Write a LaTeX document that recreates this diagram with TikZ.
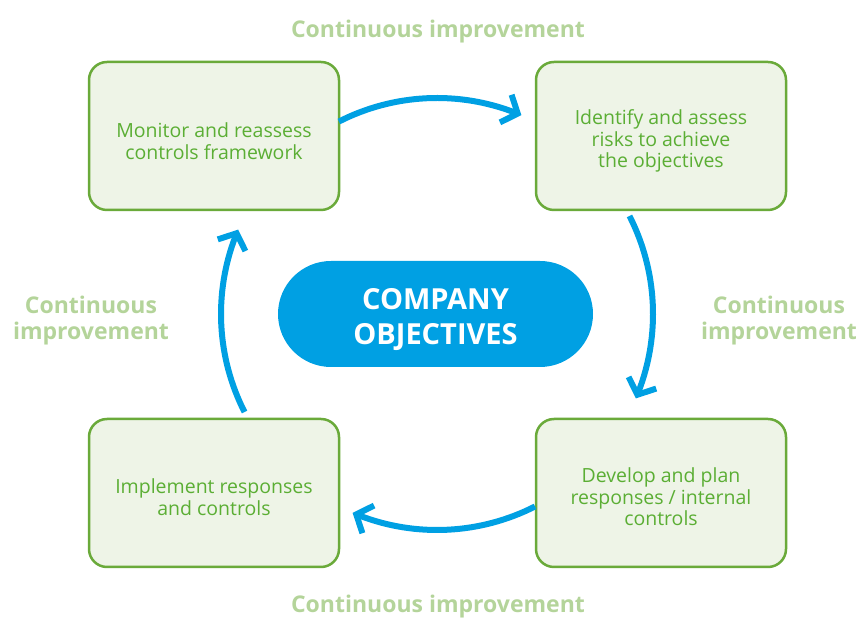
\documentclass[tikz,border=0pt]{standalone}
\usepackage{fontspec}
\setmainfont{Open Sans}
\usetikzlibrary{arrows.meta,bending}
\definecolor{boxline}{HTML}{6AAA3A}
\definecolor{boxfill}{HTML}{EEF4E7}
\definecolor{boxtext}{HTML}{5BAE34}
\definecolor{labtext}{HTML}{B4D49A}
\definecolor{pillblue}{HTML}{00A0E3}
\tikzset{
  stepbox/.style={draw=boxline, line width=2.5pt, fill=boxfill, rounded corners=18pt,
    minimum width=250pt, minimum height=148pt, inner sep=0pt},
  boxtxt/.style={align=center, text=boxtext,
    font=\fontsize{19.5}{21.5}\selectfont, inner sep=0pt},
  pill/.style={fill=pillblue, rounded corners=53pt, minimum width=315pt, minimum height=106pt,
    inner sep=0pt},
  pilltxt/.style={align=center, text=white, font=\fontsize{29}{35}\selectfont\bfseries, inner sep=0pt},
  cilabel/.style={text=labtext, font=\fontsize{23}{26}\selectfont\bfseries, align=center, inner sep=0pt},
  cyc/.style={draw=pillblue, line width=6pt, line join=miter,
    -{Straight Barb[length=13pt,width=30pt,flex]}}
}
\begin{document}
\begin{tikzpicture}[x=1pt,y=1pt]
\useasboundingbox (0,0) rectangle (859,620);
\node[stepbox] (tl) at (214,484) {};
\node[stepbox] (tr) at (661,484) {};
\node[stepbox] (bl) at (214,127) {};
\node[stepbox] (br) at (661,127) {};
\node[boxtxt] (tlt) at ([yshift=-5pt]tl.center) {Monitor and reassess\\controls framework};
\node[boxtxt] (trt) at ([yshift=-5pt]tr.center) {Identify and assess\\risks to achieve\\the objectives};
\node[boxtxt] (blt) at ([yshift=-4pt]bl.center) {Implement responses\\and controls};
\node[boxtxt] (brt) at ([yshift=-4pt]br.center) {Develop and plan\\responses / internal\\controls};
\node[pill] (obj) at (435.5,306) {};
\node[pilltxt] (objt) at ([yshift=-6pt]obj.center) {COMPANY\\OBJECTIVES};
\coordinate (c) at (437,306);
\node[cilabel] (lt) at (438,588) {Continuous improvement};
\node[cilabel] (lb) at (438,13) {Continuous improvement};
\node[cilabel] (ll) at (91,299) {Continuous\\improvement};
\node[cilabel] (lr) at (779,299) {Continuous\\improvement};
\draw[cyc] (c) ++(117:216) arc[start angle=117, end angle=67, radius=216];
\draw[cyc] (c) ++(27:216) arc[start angle=27, end angle=-23, radius=216];
\draw[cyc] (c) ++(-63:216) arc[start angle=-63, end angle=-113, radius=216];
\draw[cyc] (c) ++(-153:216) arc[start angle=-153, end angle=-203, radius=216];
\end{tikzpicture}
\end{document}
